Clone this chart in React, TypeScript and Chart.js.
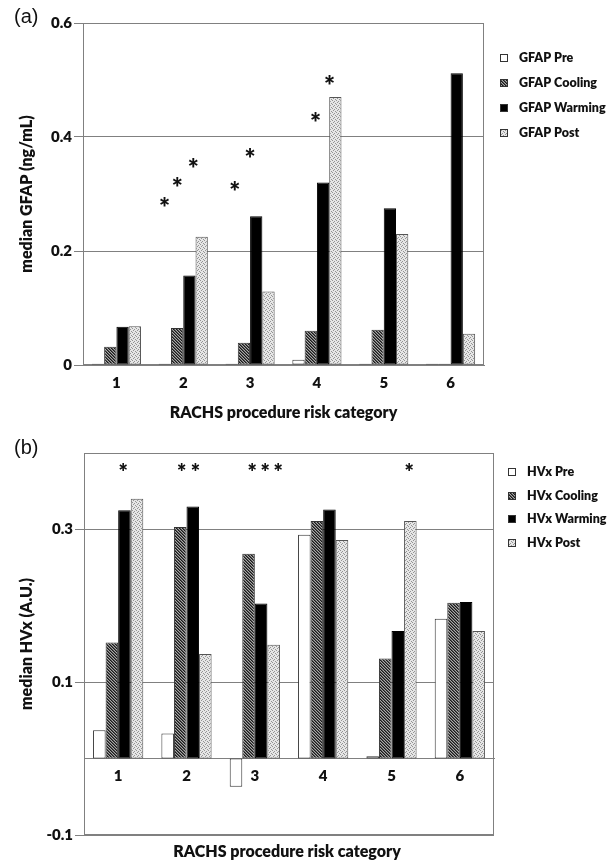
import { useEffect, useRef } from 'react';
import { Chart, registerables } from 'chart.js';

Chart.register(...registerables);

// ---------- data ----------
const categories = ['1', '2', '3', '4', '5', '6'];

const gfapPre = [0.002, 0.002, 0.002, 0.009, 0.002, 0.002];
const gfapCooling = [0.032, 0.065, 0.039, 0.06, 0.062, 0.002];
const gfapWarming = [0.067, 0.157, 0.261, 0.32, 0.275, 0.512];
const gfapPost = [0.068, 0.225, 0.129, 0.47, 0.23, 0.055];
const gfapTicks = [0, 0.2, 0.4, 0.6];
const gfapTickLabels = ['0', '0.2', '0.4', '0.6'];
const gfapStarCategory = [1, 1, 1, 2, 2, 3, 3];
const gfapStarOffset = [-0.28, -0.09, 0.15, -0.23, 0.0, -0.02, 0.19];
const gfapStarValue = [0.286, 0.322, 0.354, 0.315, 0.372, 0.435, 0.501];

const hvxPre = [0.037, 0.033, -0.037, 0.293, 0.003, 0.183];
const hvxCooling = [0.152, 0.303, 0.268, 0.311, 0.131, 0.204];
const hvxWarming = [0.325, 0.33, 0.203, 0.326, 0.167, 0.205];
const hvxPost = [0.34, 0.137, 0.149, 0.286, 0.311, 0.167];
const hvxTicks = [-0.1, 0.1, 0.3];
const hvxTickLabels = ['-0.1', '0.1', '0.3'];
const hvxStarCategory = [0, 1, 1, 2, 2, 2, 4];
const hvxStarOffset = [0.075, -0.07, 0.13, -0.04, 0.15, 0.34, 0.26];
const hvxStarValue = [0.381, 0.381, 0.381, 0.381, 0.381, 0.381, 0.381];

// ---------- styling ----------
const GRID = '#808080';
const INK = '#111111';
const FONT = 'Lato, "Open Sans", sans-serif';
const WEIGHT = '800';

function makeHatch(): CanvasPattern | string {
  const c = document.createElement('canvas');
  c.width = 3;
  c.height = 3;
  const g = c.getContext('2d');
  if (!g) return '#666';
  g.fillStyle = '#a8a8a8';
  g.fillRect(0, 0, 3, 3);
  for (let i = 0; i < 3; i++) {
    g.fillStyle = '#1a1a1a';
    g.fillRect(i, i, 1, 1);
    g.fillStyle = '#555555';
    g.fillRect((i + 1) % 3, i, 1, 1);
  }
  return g.createPattern(c, 'repeat') || '#666';
}

function makeDots(): CanvasPattern | string {
  const c = document.createElement('canvas');
  c.width = 4;
  c.height = 4;
  const g = c.getContext('2d');
  if (!g) return '#ddd';
  g.fillStyle = '#e6e6e6';
  g.fillRect(0, 0, 4, 4);
  g.fillStyle = '#949494';
  g.fillRect(0, 0, 1, 1);
  g.fillRect(2, 1, 1, 1);
  g.fillRect(1, 2, 1, 1);
  g.fillRect(3, 3, 1, 1);
  return g.createPattern(c, 'repeat') || '#ddd';
}

const framePlugin = {
  id: 'frame',
  beforeDatasetsDraw(chart: any) {
    const { ctx, chartArea } = chart;
    ctx.save();
    ctx.strokeStyle = GRID;
    ctx.lineWidth = 1;
    const l = Math.round(chartArea.left) + 0.5;
    const t = Math.round(chartArea.top) + 0.5;
    const r = Math.round(chartArea.right) - 0.5;
    const b = Math.round(chartArea.bottom) - 0.5;
    ctx.strokeRect(l, t, r - l, b - t);
    ctx.restore();
  },
};

const starsPlugin = {
  id: 'stars',
  afterDatasetsDraw(chart: any, _args: any, opts: any) {
    const { ctx } = chart;
    const xs = chart.scales.x;
    const ys = chart.scales.y;
    const catW = xs.getPixelForValue(1) - xs.getPixelForValue(0);
    ctx.save();
    ctx.font = `${WEIGHT} ${opts.size}px ${FONT}`;
    ctx.fillStyle = INK;
    ctx.textAlign = 'center';
    ctx.textBaseline = 'middle';
    (opts.cats as number[]).forEach((c, i) => {
      const px = xs.getPixelForValue(c) + opts.offsets[i] * catW;
      const py = ys.getPixelForValue(opts.values[i]);
      ctx.fillText('*', px, py + opts.dy);
    });
    ctx.restore();
  },
};

const sideLegendPlugin = {
  id: 'sideLegend',
  afterDraw(chart: any, _args: any, opts: any) {
    const { ctx, chartArea } = chart;
    ctx.save();
    ctx.font = `${WEIGHT} 12.5px ${FONT}`;
    ctx.textBaseline = 'middle';
    ctx.textAlign = 'left';
    chart.data.datasets.forEach((ds: any, i: number) => {
      const cy = Math.round(chartArea.top + opts.top + i * opts.step);
      const sx = Math.round(chartArea.right + opts.boxX);
      ctx.fillStyle = ds.backgroundColor;
      ctx.fillRect(sx, cy - 4, 8, 8);
      ctx.strokeStyle = '#333';
      ctx.lineWidth = 1;
      ctx.strokeRect(sx + 0.5, cy - 3.5, 7, 7);
      ctx.fillStyle = INK;
      ctx.fillText(ds.label, chartArea.right + opts.textX, cy);
    });
    ctx.restore();
  },
};

const panelTextPlugin = {
  id: 'panelText',
  afterDraw(chart: any, _args: any, opts: any) {
    const { ctx, chartArea } = chart;
    ctx.save();
    ctx.fillStyle = INK;
    ctx.textBaseline = 'middle';
    ctx.textAlign = 'center';
    ctx.font = `${WEIGHT} 16px ${FONT}`;
    ctx.fillText(opts.xTitle, (chartArea.left + chartArea.right) / 2 + opts.xTitleDx, opts.xTitleY);
    ctx.textAlign = 'left';
    ctx.font = '20px "Liberation Sans", Arial, sans-serif';
    ctx.fillText(opts.panel, 14, opts.panelY);
    ctx.restore();
  },
};

type PanelSpec = {
  height: number;
  series: { label: string; data: number[] }[];
  min: number;
  max: number;
  ticks: number[];
  tickLabels: string[];
  yTitle: string;
  xTitle: string;
  xTitleY: number;
  xTitleDx: number;
  panel: string;
  panelY: number;
  padRight: number;
  axisWidth: number;
  xAtZero: boolean;
  bottomPad: number;
  starSize: number;
  stars: { cats: number[]; offsets: number[]; values: number[] };
  legend: { top: number; step: number; boxX: number; textX: number };
};

function Panel({ spec }: { spec: PanelSpec }) {
  const ref = useRef<HTMLCanvasElement>(null);
  useEffect(() => {
    if (!ref.current) return;
    const hatch = makeHatch();
    const dots = makeDots();
    const fills = ['#ffffff', hatch, '#000000', dots];
    const borders = ['#333333', '#333333', '#000000', '#555555'];
    const chart = new Chart(ref.current, {
      type: 'bar',
      data: {
        labels: categories,
        datasets: spec.series.map((s, i) => ({
          label: s.label,
          data: s.data,
          backgroundColor: fills[i] as any,
          borderColor: borders[i],
          borderWidth: 1,
          borderSkipped: false,
          categoryPercentage: 0.735,
          barPercentage: 1,
        })),
      },
      plugins: [framePlugin, starsPlugin, sideLegendPlugin, panelTextPlugin] as any,
      options: {
        responsive: false,
        animation: false,
        layout: { padding: { top: 23, right: spec.padRight, bottom: spec.bottomPad, left: 0 } },
        plugins: {
          legend: { display: false },
          tooltip: { enabled: false },
          stars: { ...spec.stars, size: spec.starSize, dy: spec.starSize * 0.26 },
          sideLegend: spec.legend,
          panelText: { xTitle: spec.xTitle, xTitleY: spec.xTitleY, xTitleDx: spec.xTitleDx, panel: spec.panel, panelY: spec.panelY },
        } as any,
        scales: {
          x: {
            position: spec.xAtZero ? ({ y: 0 } as any) : 'bottom',
            grid: { display: false, drawTicks: false },
            border: { display: true, color: GRID, width: 1 },
            ticks: { font: { family: FONT, weight: WEIGHT, size: 15 }, color: INK, padding: 9 },
            afterFit: (s: any) => {
              if (!spec.xAtZero) s.height = spec.height - 365;
            },
          },
          y: {
            min: spec.min,
            max: spec.max,
            afterBuildTicks: (s: any) => {
              s.ticks = spec.ticks.map((v) => ({ value: v }));
            },
            ticks: {
              font: { family: FONT, weight: WEIGHT, size: 15 },
              color: INK,
              padding: 2,
              callback: (_v: any, i: number) => spec.tickLabels[i],
            },
            grid: { color: GRID, lineWidth: 1, tickLength: 9 },
            border: { display: true, color: GRID, width: 1 },
            title: {
              display: true,
              text: spec.yTitle,
              color: INK,
              font: { family: FONT, weight: WEIGHT, size: 16 },
              padding: { top: 17.5, bottom: 0 },
            },
            afterFit: (s: any) => {
              s.width = spec.axisWidth;
            },
          },
        },
      } as any,
    });
    return () => chart.destroy();
  }, []);
  return (
    <canvas
      ref={ref}
      width={614}
      height={spec.height}
      style={{ display: 'block', width: 614, height: spec.height }}
    />
  );
}

const gfapSpec: PanelSpec = {
  height: 430,
  series: [
    { label: 'GFAP Pre', data: gfapPre },
    { label: 'GFAP Cooling', data: gfapCooling },
    { label: 'GFAP Warming', data: gfapWarming },
    { label: 'GFAP Post', data: gfapPost },
  ],
  min: 0,
  max: 0.6,
  ticks: gfapTicks,
  tickLabels: gfapTickLabels,
  yTitle: 'median GFAP (ng/mL)',
  xTitle: 'RACHS procedure risk category',
  xTitleY: 413,
  xTitleDx: 0,
  panel: '(a)',
  panelY: 17,
  padRight: 130,
  axisWidth: 83,
  xAtZero: false,
  bottomPad: 0,
  starSize: 26,
  stars: { cats: gfapStarCategory, offsets: gfapStarOffset, values: gfapStarValue },
  legend: { top: 35, step: 25, boxX: 16, textX: 35 },
};

const hvxSpec: PanelSpec = {
  height: 432,
  series: [
    { label: 'HVx Pre', data: hvxPre },
    { label: 'HVx Cooling', data: hvxCooling },
    { label: 'HVx Warming', data: hvxWarming },
    { label: 'HVx Post', data: hvxPost },
  ],
  min: -0.1,
  max: 0.4,
  ticks: hvxTicks,
  tickLabels: hvxTickLabels,
  yTitle: 'median HVx (A.U.)',
  xTitle: 'RACHS procedure risk category',
  xTitleY: 422,
  xTitleDx: -2,
  panel: '(b)',
  panelY: 18,
  padRight: 120,
  axisWidth: 84,
  xAtZero: true,
  bottomPad: 27,
  starSize: 22,
  stars: { cats: hvxStarCategory, offsets: hvxStarOffset, values: hvxStarValue },
  legend: { top: 19, step: 23.7, boxX: 14, textX: 33 },
};

export default function App() {
  useEffect(() => {
    document.body.style.margin = '0';
  }, []);
  return (
    <div style={{ width: 614, background: '#fff' }}>
      <Panel spec={gfapSpec} />
      <Panel spec={hvxSpec} />
    </div>
  );
}
